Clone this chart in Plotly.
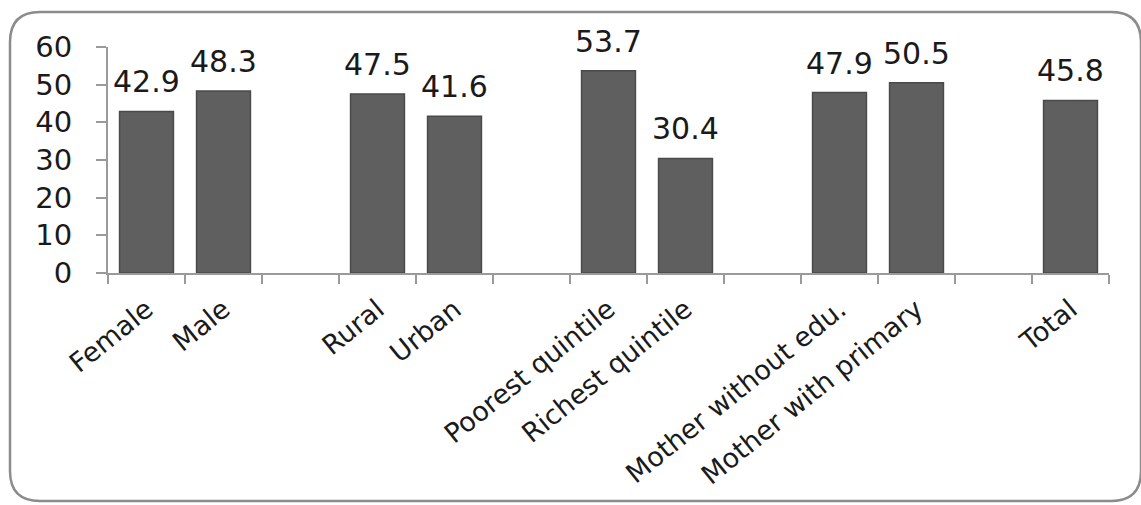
import plotly.graph_objects as go

categories = ["Female", "Male", " ", "Rural", "Urban", "  ",
              "Poorest quintile", "Richest quintile", "   ",
              "Mother without edu.", "Mother with primary", "    ", "Total"]
values = [42.9, 48.3, None, 47.5, 41.6, None, 53.7, 30.4, None, 47.9, 50.5, None, 45.8]

W, H = 1141, 505
ML, MR, MT, MB = 108, 32, 47, 232

FONT = "DejaVu Sans"
TXT = "#1a1a1a"

fig = go.Figure()
fig.add_trace(go.Bar(
    x=categories, y=values,
    marker=dict(color="#5f5f5f", line=dict(color="#4a4a4a", width=1.5)),
    hoverinfo="x+y",
))

for c, v in zip(categories, values):
    if v is None:
        continue
    fig.add_annotation(x=c, y=v, text=f"{v:.1f}", showarrow=False,
                       yanchor="bottom", yshift=10,
                       font=dict(family=FONT, size=30, color=TXT))

# rounded chart border (decoration), in pixel -> paper coords
pw, ph = W - ML - MR, H - MT - MB
def px(X):
    return (X - ML) / pw
def py(Y):
    return (H - MB - Y) / ph
L, R, T, B, r = 10, 1141, 12, 501, 30
path = (f"M {px(L)},{py(T + r)} Q {px(L)},{py(T)} {px(L + r)},{py(T)} "
        f"L {px(R - r)},{py(T)} Q {px(R)},{py(T)} {px(R)},{py(T + r)} "
        f"L {px(R)},{py(B - r)} Q {px(R)},{py(B)} {px(R - r)},{py(B)} "
        f"L {px(L + r)},{py(B)} Q {px(L)},{py(B)} {px(L)},{py(B - r)} Z")
fig.add_shape(type="path", path=path, xref="paper", yref="paper",
              line=dict(color="#8c8c8c", width=2.5), layer="below")

fig.update_layout(
    width=W, height=H,
    margin=dict(l=ML, r=MR, t=MT, b=MB, autoexpand=False),
    paper_bgcolor="white", plot_bgcolor="white",
    bargap=0.3, showlegend=False,
    font=dict(family=FONT, color=TXT),
)
fig.update_xaxes(
    type="category", categoryorder="array", categoryarray=categories,
    tickson="boundaries", ticks="outside", ticklen=9, tickwidth=1.5, tickcolor="#9a9a9a",
    showline=True, linecolor="#9a9a9a", linewidth=2,
    tickangle=-39, tickfont=dict(family=FONT, size=27, color=TXT),
    ticklabelstandoff=8,
    showgrid=False, automargin=False,
)
fig.update_yaxes(
    range=[0, 60], dtick=10, ticks="outside", ticklen=10, tickwidth=1.5, tickcolor="#9a9a9a",
    showline=True, linecolor="#9a9a9a", linewidth=2,
    tickfont=dict(family=FONT, size=29, color=TXT),
    ticklabelstandoff=18,
    showgrid=False, zeroline=False, automargin=False,
)

fig.write_html("out.html")
